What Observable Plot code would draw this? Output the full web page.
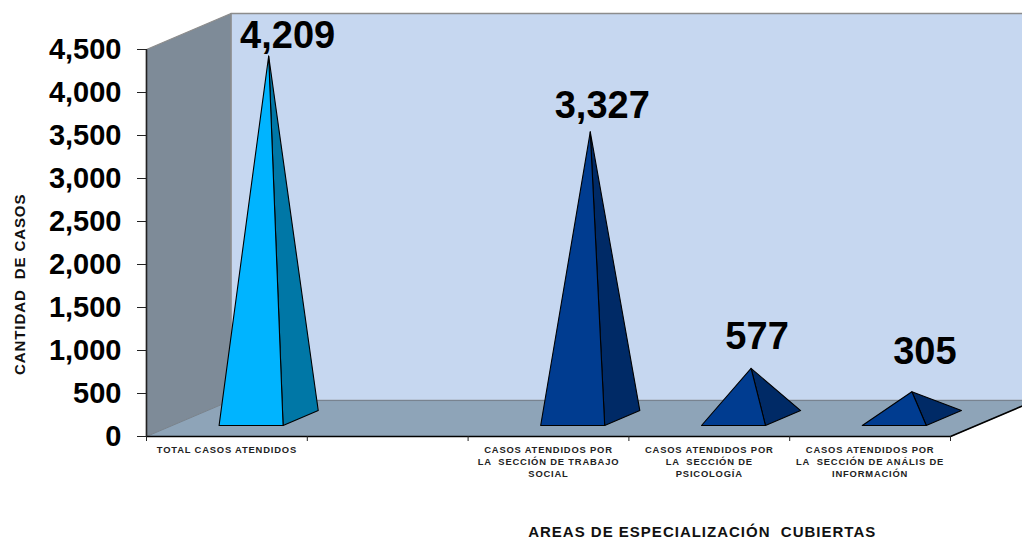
<!DOCTYPE html>
<html lang="es">
<head>
<meta charset="utf-8">
<script src="https://cdn.jsdelivr.net/npm/d3@7"></script>
<script src="https://cdn.jsdelivr.net/npm/@observablehq/plot@0.6"></script>
<style>
  html, body { margin: 0; padding: 0; background: #fff; }
  svg { display: block; font-family: "Liberation Sans", Arial, sans-serif; }
  .cat text { letter-spacing: 0.82px; }
  .xtitle text { letter-spacing: 1px; }
  .ytitle text { letter-spacing: 0.9px; }
</style>
</head>
<body>
<div id="chart"></div>
<script>
const categories = [
  "TOTAL CASOS ATENDIDOS",
  "",
  "CASOS ATENDIDOS POR\nLA  SECCIÓN DE TRABAJO\nSOCIAL",
  "CASOS ATENDIDOS POR\nLA  SECCIÓN DE\nPSICOLOGÍA",
  "CASOS ATENDIDOS POR\nLA  SECCIÓN DE ANÁLIS DE\nINFORMACIÓN"
];
const slots = [0, 2, 3, 4];
const values = [4209, 3327, 577, 305];
const valueTicks = [0, 500, 1000, 1500, 2000, 2500, 3000, 3500, 4000, 4500];
const slotEdges = [0, 1, 2, 3, 4, 5];
const frontColors = ["#00B4FF", "#003C90", "#003C90", "#003C90"];
const sideColors = ["#0077A6", "#002A66", "#002A66", "#002A66"];

// 3-D projection in scale units: depth 0 = front edge, depth 1 = back wall
const DEPTH_X = 0.525, DEPTH_Y = 418;
const P = (slot, value, depth = 0) => ({x: slot + depth * DEPTH_X, y: value + depth * DEPTH_Y});
const poly = (pts, fill, stroke, strokeWidth = 1) =>
  Plot.line([...pts, pts[0]], {x: "x", y: "y", fill, stroke, strokeWidth});

const xMax = 5, yMax = 4500;
const FRONT = 0.3056, BACK = 0.722, MID = (FRONT + BACK) / 2, HALF = 0.199, SHIFT = -0.01;

const pyramids = values.flatMap((v, i) => {
  const c = slots[i] + 0.5 + SHIFT;
  const fl = P(c - HALF, 0, FRONT), fr = P(c + HALF, 0, FRONT), br = P(c + HALF, 0, BACK);
  const apex = P(c, v, MID);
  return [
    poly([fr, br, apex], sideColors[i], "#000", 1.1),
    poly([fl, fr, apex], frontColors[i], "#000", 1.1)
  ];
});

// label nudges in pixels relative to each apex
const labelDx = [19, 12, 6, 13];
const labelDy = [-20, -26, -32, -40];
const valueLabels = values.map((v, i) => {
  const c = slots[i] + 0.5 + SHIFT;
  return Plot.text([P(c, v, MID)], {
    x: "x", y: "y", text: () => d3.format(",")(v),
    dx: labelDx[i], dy: labelDy[i],
    fontSize: 38, fontWeight: "bold", fill: "#000"
  });
});

const chart = Plot.plot({
  width: 1022,
  height: 539,
  marginLeft: 146,
  marginRight: 72,
  marginTop: 49,
  marginBottom: 103,
  style: {background: "#fff", fontFamily: "'Liberation Sans', Arial, sans-serif", overflow: "hidden"},
  x: {domain: [0, xMax], axis: null},
  y: {domain: [0, yMax], axis: null},
  marks: [
    // back wall, left wall, floor
    poly([P(0, 0, 1), P(xMax, 0, 1), P(xMax, yMax, 1), P(0, yMax, 1)], "#C6D7F0", "#8c8c8c", 1.4),
    poly([P(0, 0, 0), P(0, 0, 1), P(0, yMax, 1), P(0, yMax, 0)], "#7E8B98", "#8c8c8c", 1.2),
    poly([P(0, 0, 0), P(xMax, 0, 0), P(xMax, 0, 1), P(0, 0, 1)], "#8EA4B8", "#77838f", 1),
    Plot.line([P(0, 0, 0), P(xMax, 0, 0), P(xMax, 0, 1)], {x: "x", y: "y", stroke: "#000", strokeWidth: 1.6}),
    ...pyramids,
    // axes
    Plot.ruleX([0], {stroke: "#222", strokeWidth: 1.6}),
    Plot.axisY({
      ticks: valueTicks, tickFormat: d3.format(","), tickSize: 9, tickPadding: 16,
      fontSize: 29, fontWeight: "bold", label: null, color: "#000", stroke: "#222"
    }),
    Plot.axisX({
      ticks: slotEdges, tickSize: 5, tickFormat: () => "", label: null, stroke: "#222"
    }),
    Plot.axisX({
      ticks: slotEdges.slice(0, -1).map(d => d + 0.5),
      tickSize: 0, tickPadding: 8,
      tickFormat: d => categories[Math.floor(d)],
      fontSize: 9.4, fontWeight: "bold", label: null, fill: "#222",
      lineHeight: 1.28, className: "cat"
    }),
    ...valueLabels,
    Plot.text(["AREAS DE ESPECIALIZACIÓN  CUBIERTAS"], {
      x: 3.456, y: -1116, text: d => d,
      fontSize: 15, fontWeight: "bold", fill: "#111", className: "xtitle"
    }),
    Plot.text(["CANTIDAD  DE CASOS"], {
      y: 1770, frameAnchor: "left", textAnchor: "middle", dx: -126, rotate: -90, text: d => d,
      fontSize: 15, fontWeight: "bold", fill: "#111", className: "ytitle"
    })
  ]
});
document.getElementById("chart").append(chart);
</script>
</body>
</html>
